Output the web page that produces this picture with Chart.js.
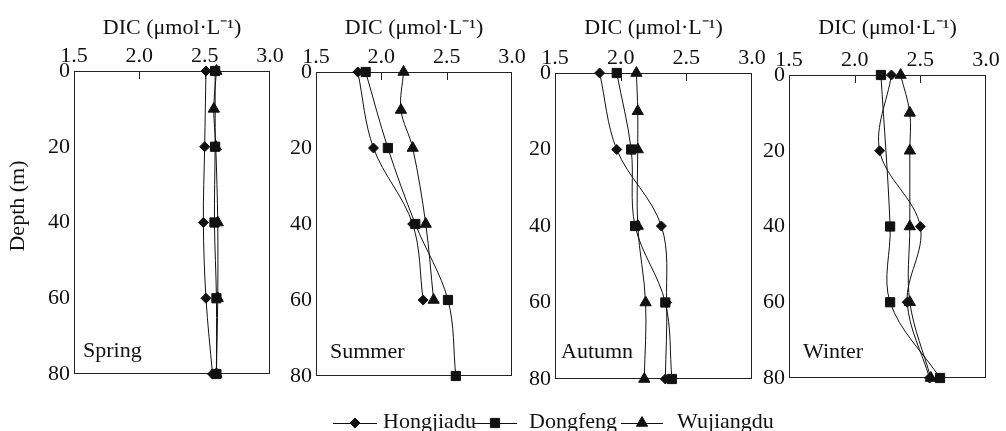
<!DOCTYPE html>
<html>
<head>
<meta charset="utf-8">
<script src="https://cdn.jsdelivr.net/npm/chart.js@4/dist/chart.umd.min.js"></script>
<style>
  body { margin: 0; background: #fff; }
  #wrap { position: relative; width: 1006px; height: 431px; overflow: hidden; }
  #wrap canvas { position: absolute; left: 0; top: 0; }
</style>
</head>
<body>
<div id="wrap">
  <canvas id="c0" width="1006" height="431"></canvas>
  <canvas id="c1" width="1006" height="431"></canvas>
  <canvas id="c2" width="1006" height="431"></canvas>
  <canvas id="c3" width="1006" height="431"></canvas>
</div>
<script>
// DIC depth profiles at three reservoir stations, one panel per season

const seasons = ['Spring', 'Summer', 'Autumn', 'Winter'];
const stations = ['Hongjiadu', 'Dongfeng', 'Wujiangdu'];
const xTicks = [1.5, 2.0, 2.5, 3.0];
const yTicks = [0, 20, 40, 60, 80];
const depths = [0, 10, 20, 40, 60, 80];

// DIC values at each depth, null = not sampled
const springHongjiadu = [2.51, null, 2.50, 2.49, 2.51, 2.56];
const springDongfeng  = [2.58, null, 2.58, 2.575, 2.59, 2.59];
const springWujiangdu = [2.59, 2.57, 2.585, 2.60, 2.60, 2.59];

const summerHongjiadu = [1.82, null, 1.94, 2.24, 2.32, null];
const summerDongfeng  = [1.88, null, 2.05, 2.26, 2.51, 2.57];
const summerWujiangdu = [2.17, 2.15, 2.24, 2.34, 2.40, null];

const autumnHongjiadu = [1.84, null, 1.97, 2.31, 2.35, 2.34];
const autumnDongfeng  = [1.97, null, 2.08, 2.11, 2.34, 2.39];
const autumnWujiangdu = [2.12, 2.13, 2.13, 2.13, 2.19, 2.18];

const winterHongjiadu = [2.28, null, 2.19, 2.50, 2.40, 2.57];
const winterDongfeng  = [2.20, null, null, 2.27, 2.27, 2.65];
const winterWujiangdu = [2.35, 2.42, 2.42, 2.42, 2.42, 2.58];

const seasonSeries = [
  [springHongjiadu, springDongfeng, springWujiangdu],
  [summerHongjiadu, summerDongfeng, summerWujiangdu],
  [autumnHongjiadu, autumnDongfeng, autumnWujiangdu],
  [winterHongjiadu, winterDongfeng, winterWujiangdu]
];

// plot boxes of the four panels (px) and where the season name sits
const boxes = [
  { l: 74,  t: 71, r: 270, b: 374, tx: 9,  ty: 17 },
  { l: 316, t: 72, r: 512, b: 376, tx: 14, ty: 18 },
  { l: 555, t: 73, r: 752, b: 379, tx: 6,  ty: 21 },
  { l: 789, t: 75, r: 986, b: 378, tx: 14, ty: 20 }
];

const markers = [
  { style: 'rectRot', radius: 5 },
  { style: 'rect', radius: 6.5 },
  { style: 'triangle', radius: 6.5 }
];

const FONT = '"Liberation Serif", "Times New Roman", serif';
const INK = '#111';

function toPoints(values) {
  const pts = [];
  values.forEach((v, i) => {
    if (v !== null) pts.push({ x: v, y: depths[i] });
  });
  return pts;
}

function drawMarker(ctx, style, r, x, y) {
  ctx.beginPath();
  if (style === 'rectRot') {
    ctx.moveTo(x - r, y); ctx.lineTo(x, y - r); ctx.lineTo(x + r, y); ctx.lineTo(x, y + r);
  } else if (style === 'rect') {
    const s = r * Math.SQRT1_2;
    ctx.rect(x - s, y - s, 2 * s, 2 * s);
  } else {
    ctx.moveTo(x, y - r);
    ctx.lineTo(x + r * 0.866, y + r * 0.5);
    ctx.lineTo(x - r * 0.866, y + r * 0.5);
  }
  ctx.closePath();
  ctx.fill();
  ctx.stroke();
}

// frame, inner ticks and season name
const framePlugin = {
  id: 'frame',
  beforeDatasetsDraw(chart, args, opts) {
    const { ctx, chartArea: a, scales } = chart;
    ctx.save();
    ctx.strokeStyle = '#222';
    ctx.lineWidth = 1;
    ctx.strokeRect(a.left + 0.5, a.top + 0.5, a.right - a.left - 1, a.bottom - a.top - 1);
    ctx.beginPath();
    [2.0, 2.5].forEach(v => {
      const px = Math.round(scales.x.getPixelForValue(v)) + 0.5;
      ctx.moveTo(px, a.top);
      ctx.lineTo(px, a.top + 8);
    });
    ctx.stroke();
    ctx.fillStyle = INK;
    ctx.font = '22px ' + FONT;
    ctx.textBaseline = 'alphabetic';
    ctx.fillText(opts.text, a.left + opts.dx, a.bottom - opts.dy);
    ctx.restore();
  }
};

// shared legend under the panels
const legendPlugin = {
  id: 'stationLegend',
  afterDraw(chart, args, opts) {
    if (!opts.show) return;
    const ctx = chart.ctx;
    const items = [
      { x1: 333, x2: 377, tx: 383 },
      { x1: 473, x2: 517, tx: 529 },
      { x1: 621, x2: 663, tx: 677 }
    ];
    const y = 423;
    ctx.save();
    ctx.strokeStyle = INK;
    ctx.fillStyle = INK;
    ctx.lineWidth = 1;
    ctx.font = '22px ' + FONT;
    items.forEach((it, i) => {
      ctx.beginPath();
      ctx.moveTo(it.x1, y + 0.5);
      ctx.lineTo(it.x2, y + 0.5);
      ctx.stroke();
      drawMarker(ctx, markers[i].style, markers[i].radius, (it.x1 + it.x2) / 2, y);
      ctx.fillText(stations[i], it.tx, 428);
    });
    ctx.restore();
  }
};

seasons.forEach((season, k) => {
  const box = boxes[k];
  const yw = k === 0 ? box.l : 40;
  const datasets = seasonSeries[k].map((vals, i) => ({
    label: stations[i],
    data: toPoints(vals),
    showLine: true,
    borderColor: INK,
    borderWidth: 1,
    backgroundColor: INK,
    pointStyle: markers[i].style,
    pointRadius: markers[i].radius,
    pointBackgroundColor: INK,
    pointBorderColor: INK,
    pointBorderWidth: 1,
    tension: 0.35,
    clip: false
  }));

  new Chart(document.getElementById('c' + k), {
    type: 'scatter',
    data: { datasets },
    options: {
      responsive: false,
      animation: false,
      events: [],
      layout: {
        padding: { left: box.l - yw, top: 0, right: 1006 - box.r, bottom: 431 - box.b }
      },
      plugins: {
        legend: { display: false },
        tooltip: { enabled: false },
        frame: { text: season, dx: box.tx, dy: box.ty },
        stationLegend: { show: k === 0 }
      },
      scales: {
        x: {
          type: 'linear',
          position: 'top',
          min: 1.5,
          max: 3.0,
          afterBuildTicks: s => { s.ticks = xTicks.map(v => ({ value: v })); },
          afterFit: s => { s.height = box.t; },
          grid: { display: false, drawTicks: false },
          border: { display: false },
          ticks: {
            padding: 2,
            color: INK,
            font: { family: FONT, size: 22 },
            autoSkip: false,
            maxRotation: 0,
            callback: v => Number(v).toFixed(1)
          },
          title: {
            display: true,
            text: 'DIC (\u03bcmol\u00b7L\u207b\u00b9)',
            color: INK,
            font: { family: FONT, size: 22 },
            padding: { top: 15, bottom: 0 }
          }
        },
        y: {
          type: 'linear',
          reverse: true,
          min: 0,
          max: 80,
          afterBuildTicks: s => { s.ticks = yTicks.map(v => ({ value: v })); },
          afterFit: s => { s.width = yw; },
          grid: { display: false, drawTicks: false },
          border: { display: false },
          ticks: {
            padding: 4,
            color: INK,
            font: { family: FONT, size: 22 }
          },
          title: {
            display: k === 0,
            text: '      Depth (m)',
            color: INK,
            font: { family: FONT, size: 22 },
            padding: { top: 5, bottom: 0 }
          }
        }
      }
    },
    plugins: [framePlugin, legendPlugin]
  });
});
</script>
</body>
</html>
